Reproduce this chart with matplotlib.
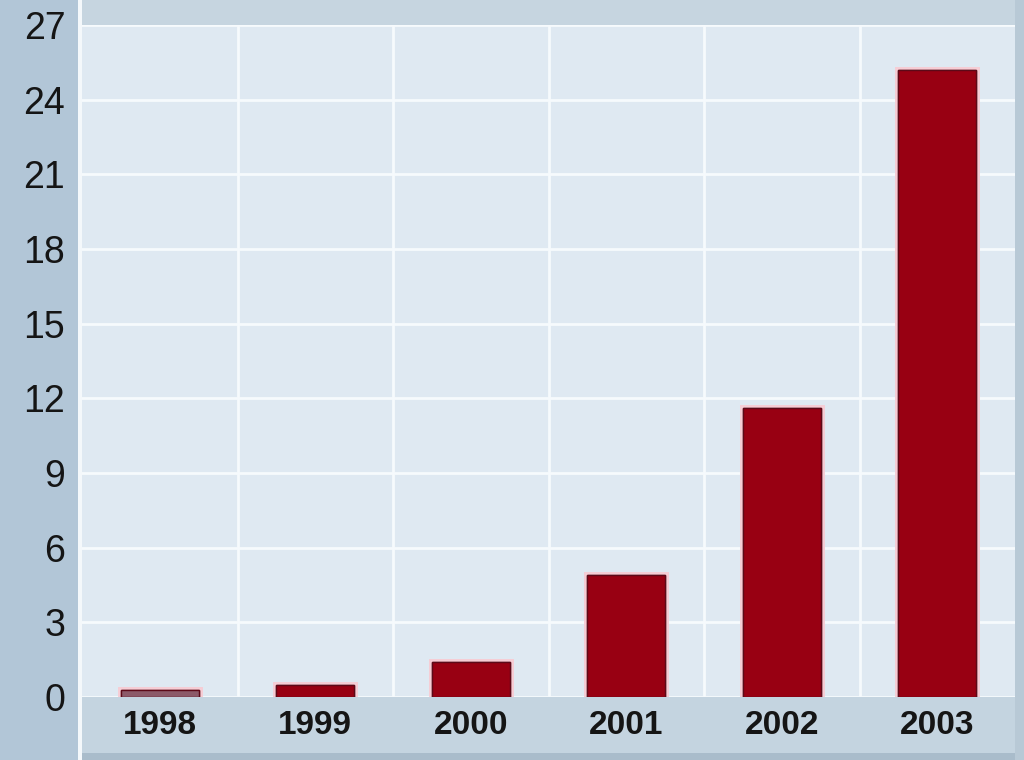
import matplotlib
matplotlib.use("Agg")
import matplotlib.pyplot as plt
import matplotlib.patheffects as pe
from matplotlib.patches import Rectangle

years = ["1998", "1999", "2000", "2001", "2002", "2003"]
values = [0.3, 0.5, 1.4, 4.9, 11.6, 25.2]
bar_colors = ["#8c5a69", "#980012", "#980012", "#980012", "#980012", "#980012"]
yticks = [0, 3, 6, 9, 12, 15, 18, 21, 24, 27]

W, H = 1024, 760
fig = plt.figure(figsize=(W / 100, H / 100), dpi=100, facecolor="#b2c6d7")

# decorative bands
def band(x0, y0, w, h, c):
    fig.patches.append(Rectangle((x0 / W, y0 / H), w / W, h / H, transform=fig.transFigure,
                                 facecolor=c, edgecolor="none", zorder=-5))

band(82, 0, 933, 63, "#c4d4e0")
band(82, 0, 933, 7, "#a9bccb")
band(82, H - 25, 933, 25, "#c6d5e0")
band(78, 0, 4, H, "#f4f8fb")
band(1015, 0, 9, H, "#b8c9d6")

ax = fig.add_axes([82 / W, 63 / H, 933 / W, (H - 25 - 63) / H])
ax.set_zorder(2)
ax.set_facecolor("#dfe9f2")
x = list(range(len(years)))
bars = ax.bar(x, values, width=0.5, color=bar_colors, edgecolor="#5c0a18", linewidth=1.0, zorder=3)
for b in bars:
    b.set_path_effects([pe.withStroke(linewidth=5, foreground="#f6cdd5"), pe.Normal()])

ax.set_xlim(-0.5, len(years) - 0.5)
ax.set_ylim(0, 27)
ax.set_yticks(yticks)
ax.set_yticklabels([str(v) for v in yticks], fontsize=27, family="Liberation Sans", color="#151515")
ax.set_xticks(x)
ax.set_xticklabels(years, fontsize=24, family="Liberation Sans", fontweight="bold", color="#151515")
ax.tick_params(axis="both", length=0)
ax.tick_params(axis="y", pad=12)
ax.tick_params(axis="x", pad=9)

for v in yticks:
    ax.axhline(v, color="#f6fafd", linewidth=2, zorder=1)
for i in range(len(years) - 1):
    ax.axvline(i + 0.5, color="#f6fafd", linewidth=2, zorder=1)

for s in ax.spines.values():
    s.set_visible(False)

fig.savefig("out.png", dpi=100, facecolor=fig.get_facecolor())
